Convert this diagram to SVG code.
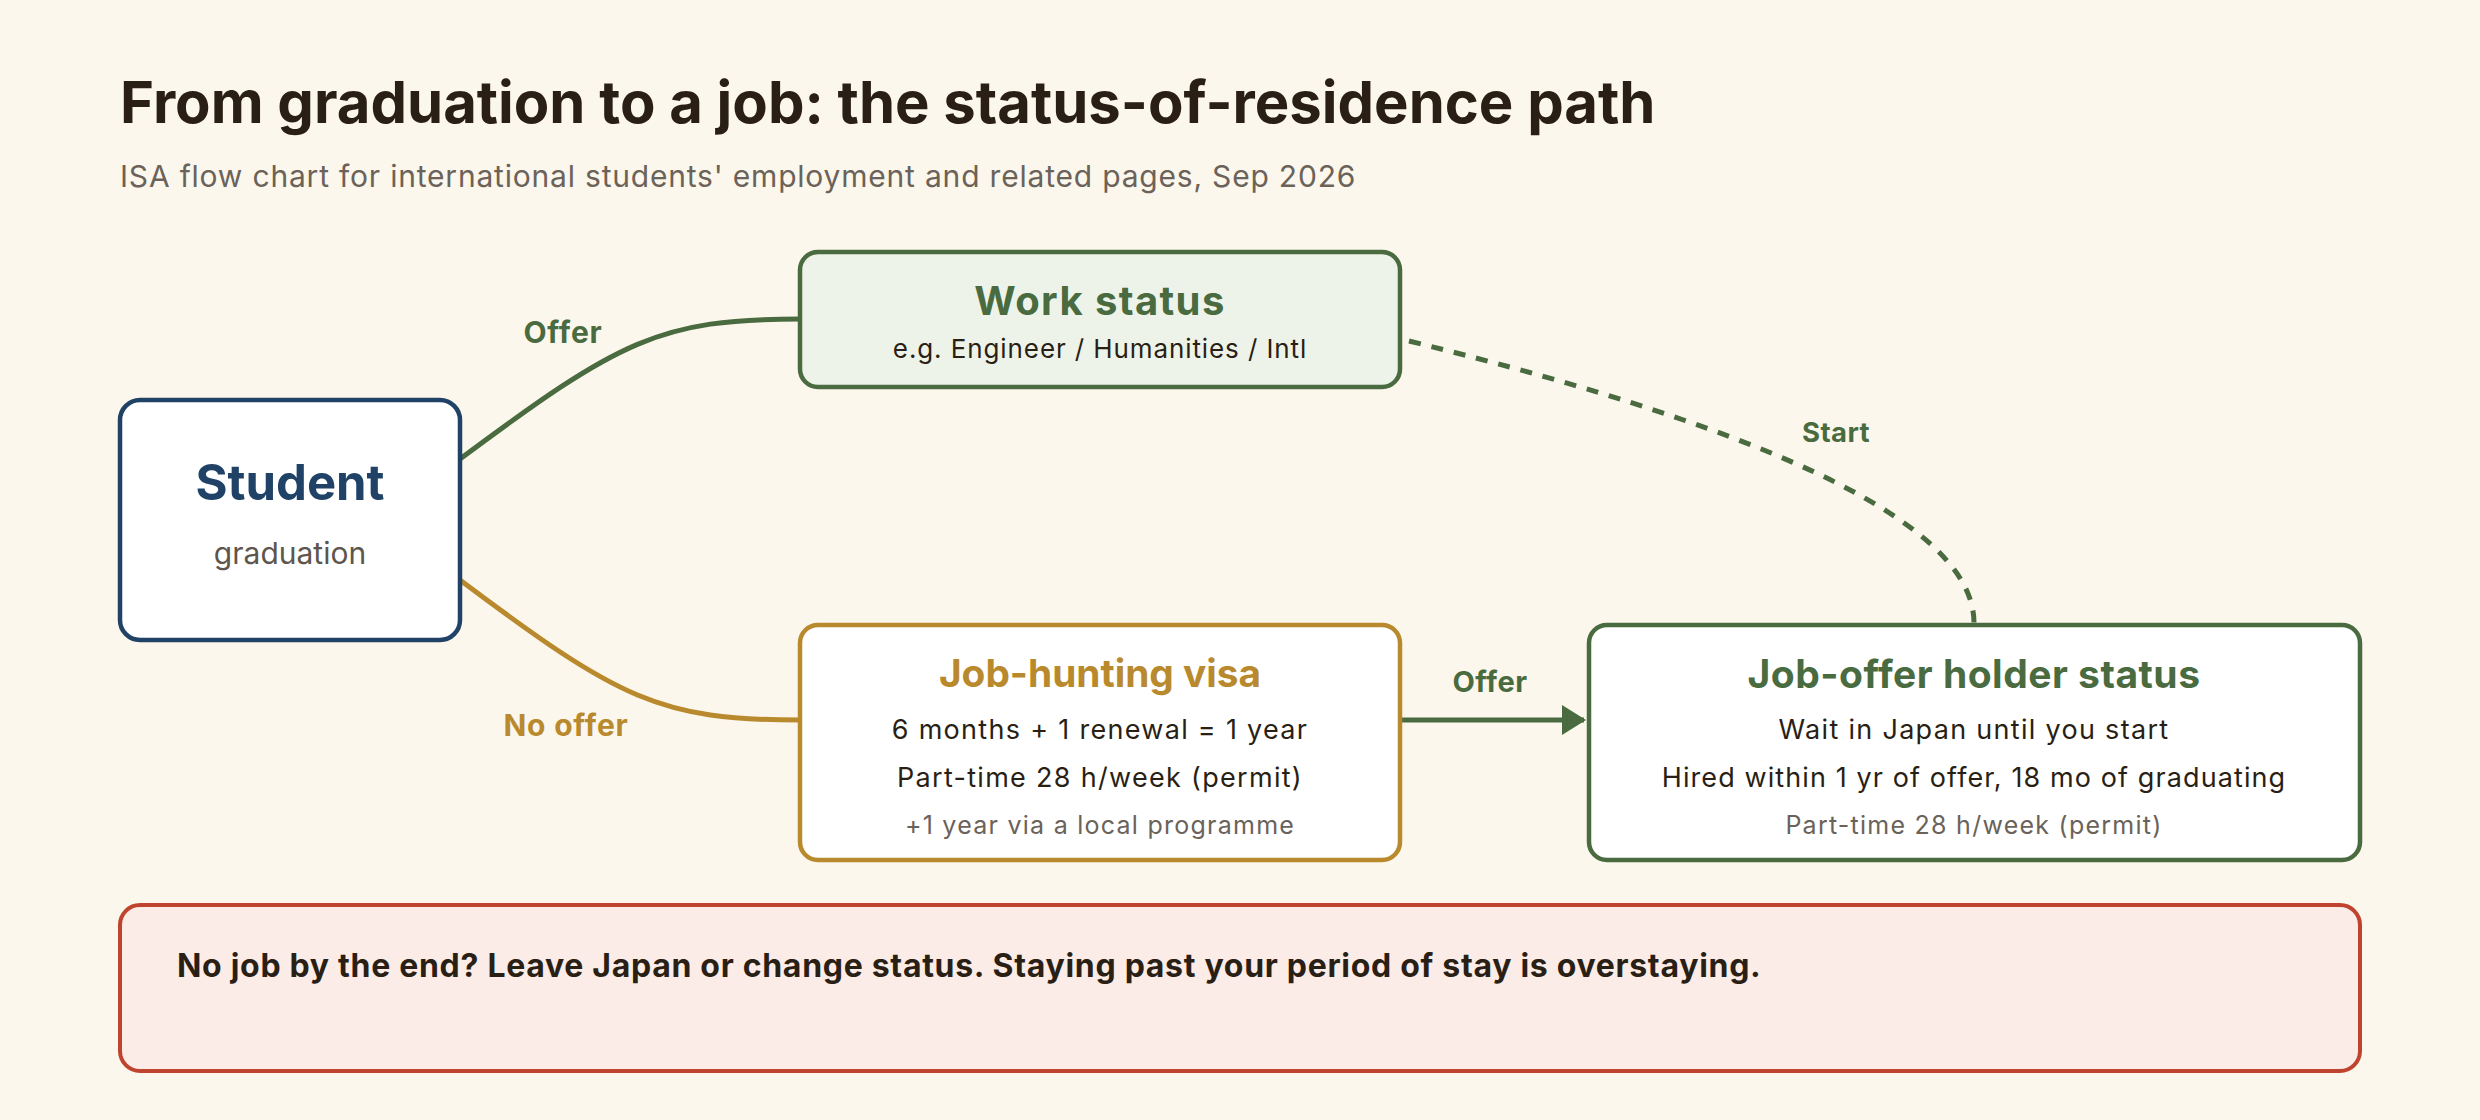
<svg xmlns="http://www.w3.org/2000/svg" width="2480" height="1120" viewBox="0 0 2480 1120">
<defs>
<style>
text{font-family:Inter,"Liberation Sans",Arial,sans-serif}
.title{font-size:58px;font-weight:700;fill:#2a1f14}
.sub{font-size:30px;letter-spacing:0.8px;fill:#6b6259}
.box{stroke-width:4.5}
.h{font-weight:700;text-anchor:middle}
.body{font-size:27px;letter-spacing:1.3px;fill:#2a1f14;text-anchor:middle}
.muted{font-size:25px;letter-spacing:1.25px;fill:#6b6259;text-anchor:middle}
.lbl{font-weight:700;text-anchor:middle}
.edge{fill:none;stroke-width:5}
</style>
<marker id="arrG" viewBox="0 0 24 30" refX="22" refY="15" markerWidth="24" markerHeight="30" markerUnits="userSpaceOnUse" orient="auto">
<path d="M0 0 L24 15 L0 30 Z" fill="#4a6b40"/>
</marker>
</defs>
<rect x="0" y="0" width="2480" height="1120" fill="#fcf7ec"/>
<g id="header">
<text class="title" x="120" y="123">From graduation to a job: the status-of-residence path</text>
<text class="sub" x="120" y="187">ISA flow chart for international students' employment and related pages, Sep 2026</text>
</g>
<g id="connectors">
<path class="edge" d="M460 459 C620 340 660 319 800 319" stroke="#4a6b40"/>
<path class="edge" d="M460 580 C620 700 660 720 800 720" stroke="#b98a2d"/>
<path class="edge" d="M1402 720 L1584 720" stroke="#4a6b40" marker-end="url(#arrG)"/>
<path class="edge" d="M1409 341 Q1974 480 1974 623" stroke="#4a6b40" stroke-dasharray="12 11" stroke-width="5.5"/>
<text class="lbl" x="563" y="343" font-size="30" letter-spacing="0.8" fill="#4a6b40">Offer</text>
<text class="lbl" x="566" y="736" font-size="30" letter-spacing="0.8" fill="#b98a2d">No offer</text>
<text class="lbl" x="1490" y="692" font-size="29" letter-spacing="0.5" fill="#4a6b40">Offer</text>
<text class="lbl" x="1836" y="442" font-size="27.5" letter-spacing="0.4" fill="#4a6b40">Start</text>
</g>
<g id="student">
<rect class="box" x="120" y="400" width="340" height="240" rx="20" fill="#ffffff" stroke="#1f4266"/>
<text class="h" x="290" y="500" font-size="49" fill="#1f4266">Student</text>
<text x="290" y="564" font-size="30" fill="#5e554c" text-anchor="middle">graduation</text>
</g>
<g id="work-status">
<rect class="box" x="800" y="252" width="600" height="135" rx="18" fill="#eef3ea" stroke="#4a6b40"/>
<text class="h" x="1100" y="315" font-size="40" letter-spacing="1.4" fill="#4a6b40">Work status</text>
<text class="body" x="1100" y="358" style="font-size:26px;letter-spacing:0.9px">e.g. Engineer / Humanities / Intl</text>
</g>
<g id="job-hunting">
<rect class="box" x="800" y="625" width="600" height="235" rx="18" fill="#ffffff" stroke="#b98a2d"/>
<text class="h" x="1100" y="687" font-size="38.8" fill="#b98a2d">Job-hunting visa</text>
<text class="body" x="1100" y="739">6 months + 1 renewal = 1 year</text>
<text class="body" x="1100" y="787">Part-time 28 h/week (permit)</text>
<text class="muted" x="1100" y="834">+1 year via a local programme</text>
</g>
<g id="job-offer">
<rect class="box" x="1589" y="625" width="771" height="235" rx="18" fill="#ffffff" stroke="#4a6b40"/>
<text class="h" x="1974" y="688" font-size="39" letter-spacing="0.5" fill="#4a6b40">Job-offer holder status</text>
<text class="body" x="1974" y="739">Wait in Japan until you start</text>
<text class="body" x="1974" y="787" style="letter-spacing:1.1px">Hired within 1 yr of offer, 18 mo of graduating</text>
<text class="muted" x="1974" y="834">Part-time 28 h/week (permit)</text>
</g>
<g id="warning">
<rect x="120" y="905" width="2240" height="166" rx="20" fill="#fbece8" stroke="#c0432f" stroke-width="4"/>
<text x="177" y="977" font-size="32" letter-spacing="0.7" font-weight="700" fill="#2a1f14">No job by the end? Leave Japan or change status. Staying past your period of stay is overstaying.</text>
</g>
</svg>
